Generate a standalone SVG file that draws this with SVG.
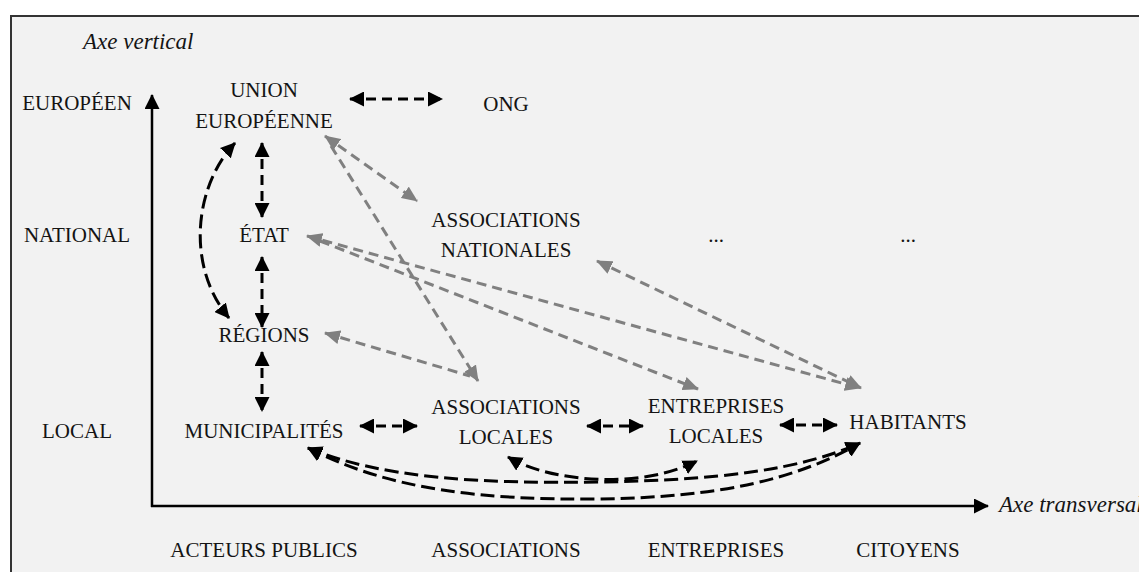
<svg xmlns="http://www.w3.org/2000/svg" width="1139" height="572" viewBox="0 0 1139 572">
<defs>
<style>
text{font-family:"Liberation Serif","Times New Roman",serif;font-size:21px;fill:#141414;text-anchor:middle}
.ax{font-style:italic;font-size:23px;text-anchor:start}
.blk{fill:none;stroke:#000;stroke-width:3;stroke-dasharray:10 6;marker-start:url(#ab);marker-end:url(#ab)}
.crv{fill:none;stroke:#000;stroke-width:3;stroke-dasharray:14 6}
.gry{fill:none;stroke:#808080;stroke-width:3;stroke-dasharray:10 6}
.axis{fill:none;stroke:#000;stroke-width:2.5;marker-end:url(#ab)}
</style>
<marker id="ab" viewBox="0 0 15 15" markerWidth="15" markerHeight="15" markerUnits="userSpaceOnUse" refX="14" refY="7.5" orient="auto-start-reverse"><path d="M0,0 L15,7.5 L0,15 z" fill="#000"/></marker>
<marker id="ag" viewBox="0 0 16 14" markerWidth="16" markerHeight="14" markerUnits="userSpaceOnUse" refX="15" refY="7" orient="auto-start-reverse"><path d="M0,0 L16,7 L0,14 z" fill="#808080"/></marker>
</defs>
<rect x="0" y="0" width="1139" height="572" fill="#fff"/>
<rect x="11" y="16" width="1140" height="570" fill="#f2f2f2" stroke="#333" stroke-width="2"/>
<g id="axes">
<line class="axis" x1="152" y1="507" x2="152" y2="95"/>
<line class="axis" x1="151" y1="506" x2="988" y2="506"/>
<text class="ax" x="83" y="49">Axe vertical</text>
<text class="ax" x="999" y="512">Axe transversal</text>
<text x="77" y="110">EUROPÉEN</text>
<text x="77" y="242">NATIONAL</text>
<text x="77" y="438">LOCAL</text>
<text x="264" y="557">ACTEURS PUBLICS</text>
<text x="506" y="557">ASSOCIATIONS</text>
<text x="716" y="557">ENTREPRISES</text>
<text x="908" y="557">CITOYENS</text>
</g>
<g id="connectors">
<path class="blk" d="M350,99 L442,99" stroke-dasharray="21 8 12 8 40"/>
<path class="blk" d="M262,143 L262,217"/>
<path class="blk" d="M262,257 L262,327"/>
<path class="blk" d="M262,352 L262,411"/>
<path class="blk" d="M360,426 L417,426" stroke-dasharray="22 8 30"/>
<path class="blk" d="M587,426 L643,426" stroke-dasharray="22 8 30"/>
<path class="blk" d="M780,425 L837,425" stroke-dasharray="22 8 30"/>
<path class="crv" d="M235,143 C195,185 185,265 229,318" marker-start="url(#ab)" marker-end="url(#ab)"/>
<path class="crv" d="M308,448 C380,478 480,484 600,482 C720,480 800,470 860,443" marker-start="url(#ab)" marker-end="url(#ab)"/>
<path class="crv" d="M308,448 C390,490 480,500 600,499 C720,497 795,480 860,443" marker-start="url(#ab)" marker-end="url(#ab)"/>
<path class="crv" d="M508,457 C550,482 640,490 697,461" marker-start="url(#ab)" marker-end="url(#ab)"/>
<path class="gry" d="M325,136 L417,201" marker-start="url(#ag)" marker-end="url(#ag)"/>
<path class="gry" d="M331,146 L478,381" marker-end="url(#ag)"/>
<path class="gry" d="M307,236 L860,388" marker-start="url(#ag)" marker-end="url(#ag)"/>
<path class="gry" d="M320,241 L698,389" marker-end="url(#ag)"/>
<path class="gry" d="M325,333 L470,376" marker-start="url(#ag)"/>
<path class="gry" d="M597,261 L861,388" marker-start="url(#ag)" marker-end="url(#ag)"/>
</g>
<g id="n-ue"><text x="264" y="97">UNION</text><text x="264" y="128">EUROPÉENNE</text></g>
<g id="n-ong"><text x="506" y="111">ONG</text></g>
<g id="n-etat"><text x="264" y="242">ÉTAT</text></g>
<g id="n-assnat"><text x="506" y="227">ASSOCIATIONS</text><text x="506" y="257">NATIONALES</text></g>
<g id="n-dots1"><text x="716" y="242">...</text></g>
<g id="n-dots2"><text x="908" y="242">...</text></g>
<g id="n-regions"><text x="264" y="342">RÉGIONS</text></g>
<g id="n-mun"><text x="264" y="438">MUNICIPALITÉS</text></g>
<g id="n-assloc"><text x="506" y="414">ASSOCIATIONS</text><text x="506" y="444">LOCALES</text></g>
<g id="n-entloc"><text x="716" y="413">ENTREPRISES</text><text x="716" y="443">LOCALES</text></g>
<g id="n-hab"><text x="908" y="429">HABITANTS</text></g>
</svg>
